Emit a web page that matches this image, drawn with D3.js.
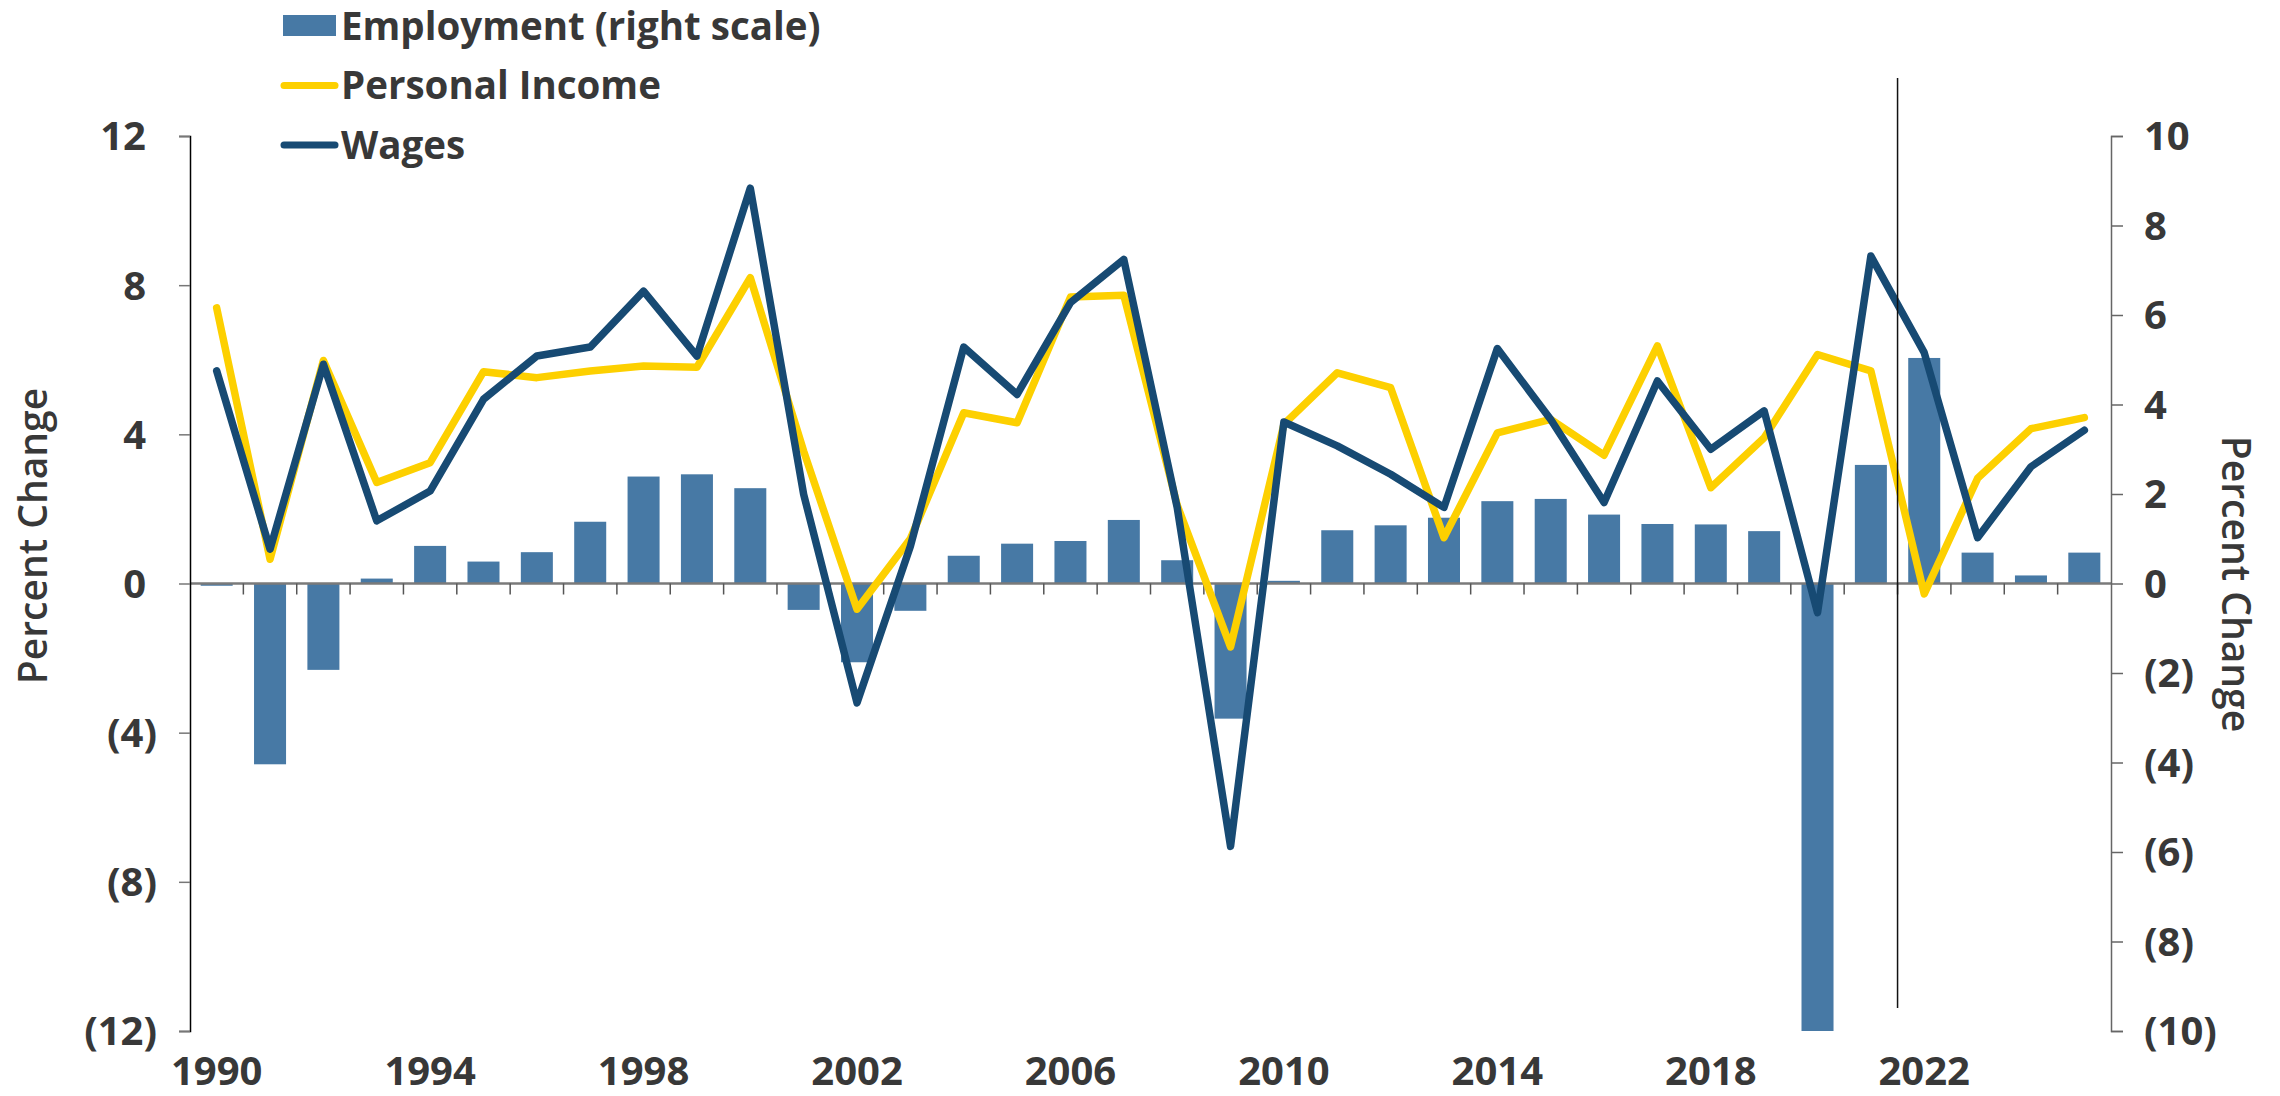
<!DOCTYPE html>
<html>
<head>
<meta charset="utf-8">
<script src="https://cdn.jsdelivr.net/npm/d3@7"></script>
<style>
  body { margin: 0; background: #fff; }
  svg text { font-family: "Open Sans", "Lato", sans-serif; fill: #383838; }
</style>
</head>
<body>
<svg id="chart"></svg>
<script>
// annual percent change, 1990 - 2025
const years = d3.range(1990, 2026)
const employment = [-0.05, -4.04, -1.93, 0.11, 0.84, 0.49, 0.70, 1.38, 2.39, 2.44,
  2.13, -0.59, -1.76, -0.61, 0.62, 0.89, 0.95, 1.42, 0.52, -3.02,
  0.06, 1.19, 1.30, 1.47, 1.84, 1.89, 1.54, 1.33, 1.32, 1.17,
  -10.0, 2.65, 5.04, 0.69, 0.18, 0.69]
const personalIncome = [7.39, 0.65, 5.98, 2.71, 3.24, 5.68, 5.52, 5.70, 5.83, 5.80,
  8.20, 3.55, -0.69, 1.2, 4.58, 4.31, 7.68, 7.73, 2.1, -1.7,
  4.27, 5.65, 5.25, 1.23, 4.04, 4.40, 3.44, 6.37, 2.57, 3.91,
  6.14, 5.70, -0.28, 2.82, 4.15, 4.45]
const wages = [5.70, 0.92, 5.88, 1.68, 2.48, 4.94, 6.10, 6.34, 7.84, 6.10,
  10.6, 2.39, -3.2, 1.0, 6.34, 5.07, 7.53, 8.69, 2.04, -7.05,
  4.33, 3.69, 2.93, 2.04, 6.30, 4.40, 2.17, 5.43, 3.60, 4.63,
  -0.78, 8.78, 6.19, 1.23, 3.13, 4.11]
const leftTicks = [12, 8, 4, 0, -4, -8, -12]
const rightTicks = [10, 8, 6, 4, 2, 0, -2, -4, -6, -8, -10]
const yearLabels = [1990, 1994, 1998, 2002, 2006, 2010, 2014, 2018, 2022]
const forecastStart = 2022

const W = 2280, H = 1096
const plot = { left: 190, right: 2111, top: 136, bottom: 1031 }

const colors = { bar: '#4779a5', income: '#fdd000', wages: '#174a73' }

const svg = d3.select('#chart').attr('width', W).attr('height', H)

const x = d3.scaleBand().domain(years).range([plot.left, plot.right]).paddingInner(0.4).paddingOuter(0.2)
const yL = d3.scaleLinear().domain([-12, 12]).range([plot.bottom, plot.top])
const yR = d3.scaleLinear().domain([-10, 10]).range([plot.bottom, plot.top])
const fmt = v => v < 0 ? `(${-v})` : `${v}`
const cx = d => x(d) + x.bandwidth() / 2
const edge = d => x(d) - x.step() * 0.2

// bars (right scale)
svg.append('g').selectAll('rect').data(years).join('rect')
  .attr('x', d => x(d))
  .attr('width', x.bandwidth())
  .attr('y', (d, i) => Math.min(yR(employment[i]), yR(0)))
  .attr('height', (d, i) => Math.abs(yR(employment[i]) - yR(0)))
  .attr('fill', colors.bar)

// zero line + category ticks
svg.append('line')
  .attr('x1', plot.left).attr('x2', plot.right).attr('y1', yL(0)).attr('y2', yL(0))
  .attr('stroke', '#7a7a7a').attr('stroke-width', 2.5)
svg.append('g').selectAll('line').data(years.slice(1)).join('line')
  .attr('x1', edge).attr('x2', edge)
  .attr('y1', yL(0)).attr('y2', yL(0) + 11)
  .attr('stroke', '#555').attr('stroke-width', 1.5)

// left axis
const gL = svg.append('g').attr('transform', `translate(${plot.left},0)`)
  .call(d3.axisLeft(yL).tickValues(leftTicks).tickSize(11).tickFormat(''))
gL.select('.domain').attr('stroke', '#000').attr('stroke-width', 1.5)
gL.selectAll('.tick line').attr('stroke', '#777').attr('stroke-width', 1.5)
svg.append('g').selectAll('text').data(leftTicks).join('text')
  .attr('x', d => d < 0 ? 157 : 146).attr('y', d => yL(d)).attr('dy', '0.36em')
  .attr('text-anchor', 'end').attr('font-size', 40).attr('font-weight', 700)
  .text(fmt)

// right axis
const gR = svg.append('g').attr('transform', `translate(${plot.right},0)`)
  .call(d3.axisRight(yR).tickValues(rightTicks).tickSize(12).tickFormat(''))
gR.select('.domain').attr('stroke', '#666').attr('stroke-width', 1.5)
gR.selectAll('.tick line').attr('stroke', '#666').attr('stroke-width', 1.5)
svg.append('g').selectAll('text').data(rightTicks).join('text')
  .attr('x', 2144).attr('y', d => yR(d)).attr('dy', '0.36em')
  .attr('font-size', 40).attr('font-weight', 700)
  .text(fmt)

// year labels
svg.append('g').selectAll('text').data(yearLabels).join('text')
  .attr('x', d => cx(d)).attr('y', 1085)
  .attr('text-anchor', 'middle').attr('font-size', 40).attr('font-weight', 700)
  .text(d => d)

// axis titles
svg.append('text').attr('transform', 'translate(47,536) rotate(-90)')
  .attr('text-anchor', 'middle').attr('font-size', 39).attr('font-weight', 600)
  .text('Percent Change')
svg.append('text').attr('transform', 'translate(2222,584) rotate(90)')
  .attr('text-anchor', 'middle').attr('font-size', 39).attr('font-weight', 600)
  .text('Percent Change')

// lines (left scale)
const line = vals => d3.line().x((d, i) => cx(years[i])).y(d => yL(d))(vals)
svg.append('path').attr('d', line(personalIncome))
  .attr('fill', 'none').attr('stroke', colors.income).attr('stroke-width', 7.5)
  .attr('stroke-linejoin', 'round').attr('stroke-linecap', 'round')
svg.append('path').attr('d', line(wages))
  .attr('fill', 'none').attr('stroke', colors.wages).attr('stroke-width', 7.5)
  .attr('stroke-linejoin', 'round').attr('stroke-linecap', 'round')

// forecast divider
const fx = edge(forecastStart)
svg.append('line').attr('x1', fx).attr('x2', fx).attr('y1', 78).attr('y2', 1008)
  .attr('stroke', '#111').attr('stroke-width', 1.5)

// legend
const legend = [
  { name: 'Employment (right scale)', type: 'bar', color: colors.bar },
  { name: 'Personal Income', type: 'line', color: colors.income },
  { name: 'Wages', type: 'line', color: colors.wages }
]
const lg = svg.append('g').selectAll('g').data(legend).join('g')
  .attr('transform', (d, i) => `translate(0,${24 + i * 59.5})`)
lg.filter(d => d.type === 'bar').append('rect')
  .attr('x', 283).attr('y', -9).attr('width', 53).attr('height', 21).attr('fill', d => d.color)
lg.filter(d => d.type === 'line').append('line')
  .attr('x1', 284).attr('x2', 335).attr('y1', 2).attr('y2', 2)
  .attr('stroke', d => d.color).attr('stroke-width', 7).attr('stroke-linecap', 'round')
lg.append('text').attr('x', 341).attr('y', 2).attr('dy', '0.36em')
  .attr('font-size', 38.5).attr('font-weight', 700)
  .text(d => d.name)
</script>
</body>
</html>
